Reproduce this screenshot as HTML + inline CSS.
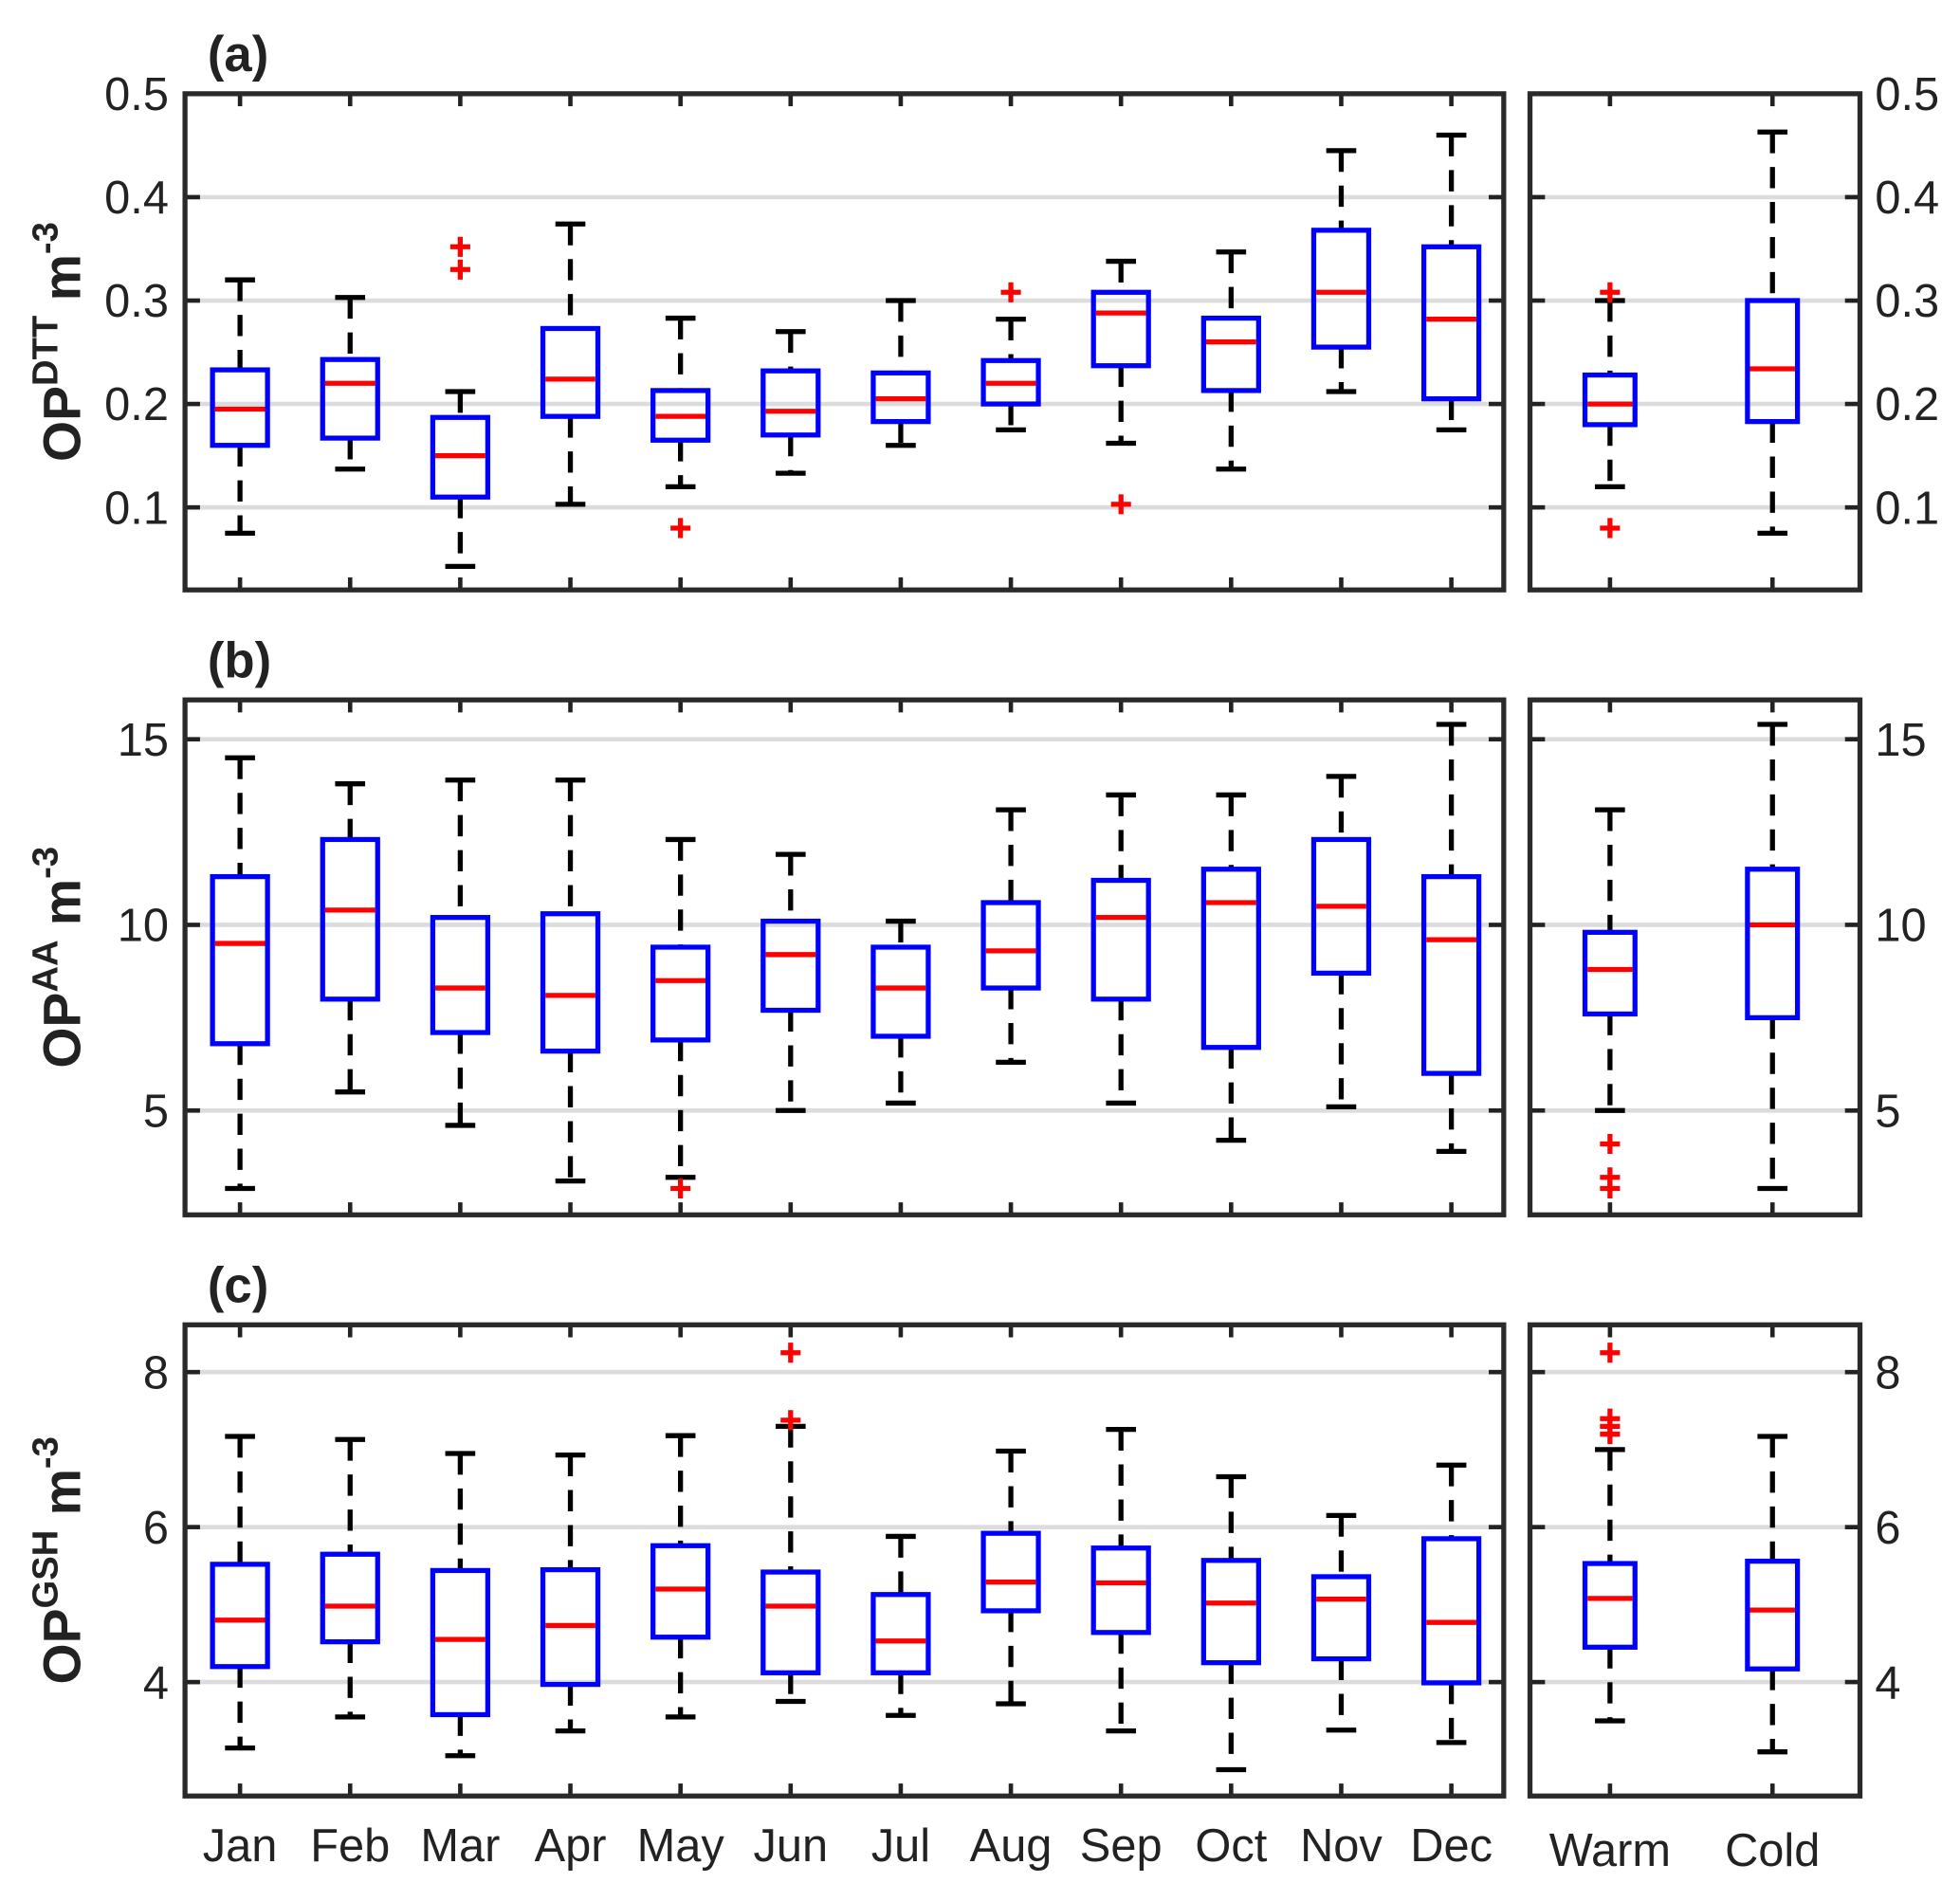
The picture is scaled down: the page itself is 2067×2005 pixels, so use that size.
<!DOCTYPE html>
<html><head><meta charset="utf-8"><style>
html,body{margin:0;padding:0;background:#fff}
svg{display:block}
text{font-family:"Liberation Sans",sans-serif;fill:#222}
</style></head><body>
<svg id="chart" width="2067" height="2005" viewBox="0 0 1568 1521" xmlns="http://www.w3.org/2000/svg"></svg>
<script>
const months = ["Jan","Feb","Mar","Apr","May","Jun","Jul","Aug","Sep","Oct","Nov","Dec"];
const seasons = ["Warm","Cold"];
// [low whisker, q1, median, q3, high whisker]
const dttMonthly = [[0.075,0.16,0.195,0.233,0.32],[0.137,0.167,0.22,0.243,0.303],[0.043,0.11,0.15,0.187,0.212],[0.103,0.188,0.224,0.273,0.374],[0.12,0.165,0.188,0.213,0.283],[0.133,0.17,0.193,0.232,0.27],[0.16,0.183,0.205,0.23,0.3],[0.175,0.2,0.22,0.242,0.282],[0.162,0.237,0.288,0.308,0.338],[0.137,0.213,0.26,0.283,0.347],[0.212,0.255,0.308,0.368,0.445],[0.175,0.205,0.282,0.352,0.46]];
const dttMonthlyOut = [[],[],[0.352,0.33],[],[0.08],[],[],[0.308],[0.103],[],[],[]];
const dttSeason = [[0.12,0.18,0.2,0.228,0.3],[0.075,0.183,0.234,0.3,0.463]];
const dttSeasonOut = [[0.308,0.08],[]];
const aaMonthly = [[2.9,6.8,9.5,11.3,14.5],[5.5,8.0,10.4,12.3,13.8],[4.6,7.1,8.3,10.2,13.9],[3.1,6.6,8.1,10.3,13.9],[3.2,6.9,8.5,9.4,12.3],[5.0,7.7,9.2,10.1,11.9],[5.2,7.0,8.3,9.4,10.1],[6.3,8.3,9.3,10.6,13.1],[5.2,8.0,10.2,11.2,13.5],[4.2,6.7,10.6,11.5,13.5],[5.1,8.7,10.5,12.3,14.0],[3.9,6.0,9.6,11.3,15.4]];
const aaMonthlyOut = [[],[],[],[],[2.9],[],[],[],[],[],[],[]];
const aaSeason = [[5.0,7.6,8.8,9.8,13.1],[2.9,7.5,10.0,11.5,15.4]];
const aaSeasonOut = [[4.1,3.2,2.9],[]];
const gshMonthly = [[3.15,4.2,4.8,5.52,7.17],[3.55,4.52,4.98,5.65,7.13],[3.05,3.58,4.55,5.44,6.95],[3.37,3.97,4.73,5.45,6.93],[3.55,4.58,5.2,5.76,7.18],[3.75,4.12,4.98,5.42,7.3],[3.57,4.12,4.53,5.13,5.88],[3.72,4.92,5.29,5.92,6.98],[3.37,4.64,5.28,5.73,7.26],[2.87,4.25,5.02,5.57,6.65],[3.38,4.3,5.07,5.36,6.15],[3.22,3.99,4.77,5.85,6.8]];
const gshMonthlyOut = [[],[],[],[],[],[8.25,7.38],[],[],[],[],[],[]];
const gshSeason = [[3.5,4.45,5.08,5.53,7.0],[3.1,4.17,4.93,5.56,7.17]];
const gshSeasonOut = [[8.25,7.4,7.3,7.2],[]];
const dttTicks = [0.1,0.2,0.3,0.4,0.5];
const aaTicks = [5,10,15];
const gshTicks = [4,6,8];

const NS="http://www.w3.org/2000/svg";
const svg=document.getElementById('chart');
function mk(tag,attrs,parent){const e=document.createElementNS(NS,tag);for(const k in attrs)e.setAttribute(k,attrs[k]);(parent||svg).appendChild(e);return e;}

const L0=148,L1=1203,R0=1224,R1=1488;
const mx=i=>192+i*88.1;
const sx=i=>1288+i*130;

function panel(cfg){
  const {top,bot,vmin,vmax,ticks,fmt,sup,tag,mon,monOut,sea,seaOut,name,xlabels}=cfg;
  const y=v=>bot-(v-vmin)/(vmax-vmin)*(bot-top);
  const g=mk('g',{});
  
  
  [[L0,L1],[R0,R1]].forEach(([a,b],pi)=>{
    ticks.forEach(t=>{
      const gl=mk('line',{x1:a,x2:b,y1:y(t),y2:y(t),stroke:'#dcdcdc','stroke-width':3.5},g);
      
      
      mk('line',{x1:a,x2:a+12,y1:y(t),y2:y(t),stroke:'#222','stroke-width':3.5},g);
      mk('line',{x1:b-12,x2:b,y1:y(t),y2:y(t),stroke:'#222','stroke-width':3.5},g);
    });
    const xs=pi==0?months.map((m,i)=>mx(i)):seasons.map((s,i)=>sx(i));
    xs.forEach(x=>{
      mk('line',{x1:x,x2:x,y1:top,y2:top+10,stroke:'#222','stroke-width':3.5},g);
      mk('line',{x1:x,x2:x,y1:bot-10,y2:bot,stroke:'#222','stroke-width':3.5},g);
    });
  });
  function box(x,d,outs,hw,nm){
    const bg=mk('g',{},g);
    
    
    mk('line',{x1:x,x2:x,y1:y(d[4]),y2:y(d[3]),stroke:'#000','stroke-width':4,'stroke-dasharray':'17 11'},bg);
    mk('line',{x1:x,x2:x,y1:y(d[1]),y2:y(d[0]),stroke:'#000','stroke-width':4,'stroke-dasharray':'17 11'},bg);
    mk('line',{x1:x-12,x2:x+12,y1:y(d[4]),y2:y(d[4]),stroke:'#000','stroke-width':4},bg);
    mk('line',{x1:x-12,x2:x+12,y1:y(d[0]),y2:y(d[0]),stroke:'#000','stroke-width':4},bg);
    mk('rect',{x:x-hw,y:y(d[3]),width:2*hw,height:y(d[1])-y(d[3]),fill:'none',stroke:'#0000ff','stroke-width':4},bg);
    mk('line',{x1:x-hw+2,x2:x+hw-2,y1:y(d[2]),y2:y(d[2]),stroke:'#ff0000','stroke-width':4},bg);
    outs.forEach(o=>{
      const p=mk('path',{d:`M${x-8},${y(o)}H${x+8}M${x},${y(o)-8}V${y(o)+8}`,stroke:'#ff0000','stroke-width':4},bg);
      
      
    });
  }
  mon.forEach((d,i)=>box(mx(i),d,monOut[i],22,months[i].toLowerCase()));
  sea.forEach((d,i)=>box(sx(i),d,seaOut[i],20,seasons[i].toLowerCase()));
  [[L0,L1],[R0,R1]].forEach(([a,b])=>mk('rect',{x:a,y:top,width:b-a,height:bot-top,fill:'none',stroke:'#2a2a2a','stroke-width':4},g));
  ticks.forEach(t=>{
    const l=mk('text',{x:L0-13,y:y(t)+13,'font-size':37,'text-anchor':'end'},g);l.textContent=fmt(t);
    
    
    const r=mk('text',{x:R1+12,y:y(t)+13,'font-size':37,'text-anchor':'start'},g);r.textContent=fmt(t);
    
    
  });
  const pl=mk('text',{x:166,y:top-18,'font-size':40,'font-weight':'bold'},g);pl.textContent=tag;
  
  
  const yt=mk('text',{transform:`translate(64,${(top+bot)/2}) rotate(-90)`,'font-size':42,'font-weight':'bold','text-anchor':'middle'},g);
  
  
  yt.innerHTML=`OP<tspan dy="-18" font-size="29">${sup}</tspan><tspan dy="18"> m</tspan><tspan dy="-18" font-size="29">-3</tspan>`;
  if(xlabels){
    months.forEach((m,i)=>{const t=mk('text',{x:mx(i),y:bot+52,'font-size':37,'text-anchor':'middle'},g);t.textContent=m;
      });
    seasons.forEach((s,i)=>{const t=mk('text',{x:sx(i),y:bot+56,'font-size':37,'text-anchor':'middle'},g);t.textContent=s;
      });
  }
}
panel({top:75,bot:472,vmin:0.0202,vmax:0.5,ticks:dttTicks,fmt:t=>t.toFixed(1),tag:'(a)',sup:'DTT',mon:dttMonthly,monOut:dttMonthlyOut,sea:dttSeason,seaOut:dttSeasonOut,name:'dtt'});
panel({top:560,bot:972,vmin:2.19,vmax:16.06,ticks:aaTicks,fmt:t=>String(t),tag:'(b)',sup:'AA',mon:aaMonthly,monOut:aaMonthlyOut,sea:aaSeason,seaOut:aaSeasonOut,name:'aa'});
panel({top:1060,bot:1437,vmin:2.53,vmax:8.61,ticks:gshTicks,fmt:t=>String(t),tag:'(c)',sup:'GSH',mon:gshMonthly,monOut:gshMonthlyOut,sea:gshSeason,seaOut:gshSeasonOut,name:'gsh',xlabels:true});
</script>
</body></html>
